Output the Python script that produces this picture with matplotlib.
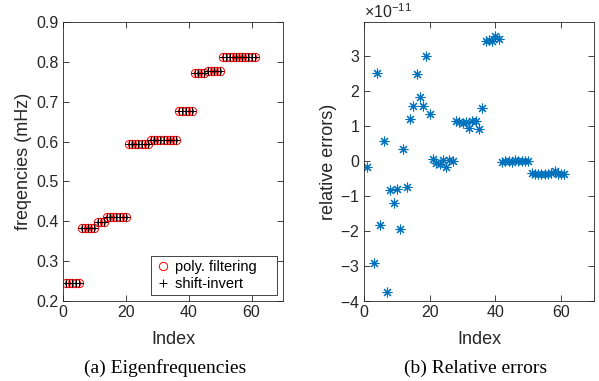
import matplotlib
matplotlib.use("Agg")
import matplotlib.pyplot as plt
import numpy as np
from matplotlib.ticker import ScalarFormatter

plt.rcParams['font.family'] = ['Liberation Sans', 'DejaVu Sans']
plt.rcParams['axes.unicode_minus'] = False
plt.rcParams['mathtext.fontset'] = 'custom'
plt.rcParams['mathtext.rm'] = 'Liberation Sans'

# eigenfrequencies (mHz), index 1..61
freq_groups = [0.244, 0.382, 0.397, 0.410, 0.593, 0.604, 0.676, 0.773, 0.776, 0.811]
group_sizes = [5, 5, 3, 7, 7, 9, 5, 4, 5, 11]
freq_poly = np.repeat(freq_groups, group_sizes)
freq_shift = np.repeat(freq_groups, group_sizes)
index = np.arange(1, len(freq_poly) + 1)

# relative errors (x 1e-11); index 2 is off the plotted range
rel_err = [-0.16, np.nan, -2.92, 2.52, -1.83, 0.58, -3.75, -0.83, -1.21, -0.81,
           -1.94, 0.33, -0.73, 1.20, 1.57, 2.48, 1.82, 1.57, 3.00, 1.33,
           0.05, -0.06, -0.08, 0.02, -0.17, 0.03, 0.00,
           1.13, 1.10, 1.08, 1.10, 0.93, 1.13, 1.15, 0.90, 1.50,
           3.43, 3.47, 3.44, 3.56, 3.48,
           -0.02, 0.01, 0.00, -0.03, 0.02, -0.01, 0.01, 0.00, 0.01,
           -0.35, -0.37, -0.36, -0.38, -0.37, -0.38, -0.35, -0.29, -0.36, -0.38, -0.36]
rel_err = np.array(rel_err) * 1e-11

axcol = '#262626'
W, H = 599, 381
fig = plt.figure(figsize=(W / 100, H / 100), dpi=100)


def style(ax):
    for s in ax.spines.values():
        s.set_color(axcol)
        s.set_linewidth(0.6)
    ax.tick_params(direction='in', top=True, right=True, length=4, width=0.6,
                   colors=axcol, labelsize=11.5, pad=3)


ax1 = fig.add_axes([63 / W, 80 / H, 220 / W, 279 / H])
ax1.plot(index, freq_poly, 'o', color='red', mfc='none', ms=6, mew=0.7,
         label='poly. filtering')
ax1.plot(index, freq_shift, '+', color='black', ms=6, mew=0.7,
         label='shift-invert')
ax1.set_xlim(0, 70)
ax1.set_ylim(0.2, 0.9)
ax1.set_xticks([0, 20, 40, 60])
style(ax1)
ax1.set_xlabel('Index', fontsize=13, color=axcol, labelpad=8)
ax1.set_ylabel('freqencies (mHz)', fontsize=13, color=axcol, labelpad=3)
leg = ax1.legend(loc='lower right', fontsize=10.5, handlelength=1.0,
                 handletextpad=0.3, borderpad=0.3, labelspacing=0.2,
                 fancybox=False, framealpha=1, borderaxespad=0.4)
leg.get_frame().set_edgecolor(axcol)
leg.get_frame().set_linewidth(0.6)
# MATLAB-style extra room on the right of the legend box
leg._legend_box.align = 'left'
leg.set_bbox_to_anchor((1, 0), transform=ax1.transAxes)
for t in leg.get_texts():
    t.set_text(t.get_text() + '    ')

ax2 = fig.add_axes([364 / W, 80 / H, 230 / W, 279 / H])
ax2.plot(index, rel_err, linestyle='none', marker=(8, 2, 0), color='#0072BD',
         ms=7, mew=0.8)
ax2.set_xlim(0, 70)
ax2.set_ylim(-4e-11, 3.97e-11)
ax2.set_xticks([0, 20, 40, 60])
ax2.set_yticks(np.arange(-4, 4) * 1e-11)
fmt = ScalarFormatter(useMathText=True)
ax2.yaxis.set_major_formatter(fmt)
style(ax2)
ax2.yaxis.get_offset_text().set_fontsize(11.5)
ax2.yaxis.get_offset_text().set_color(axcol)
ax2.set_xlabel('Index', fontsize=13, color=axcol, labelpad=8)
ax2.set_ylabel('relative errors)', fontsize=13, color=axcol, labelpad=2)

fig.text(165 / W, 1 - 368 / H, '(a) Eigenfrequencies', ha='center', va='center',
         fontsize=14, family='Liberation Serif')
fig.text(476 / W, 1 - 368 / H, '(b) Relative errors', ha='center', va='center',
         fontsize=14, family='Liberation Serif')

fig.savefig('out.png', dpi=100)
